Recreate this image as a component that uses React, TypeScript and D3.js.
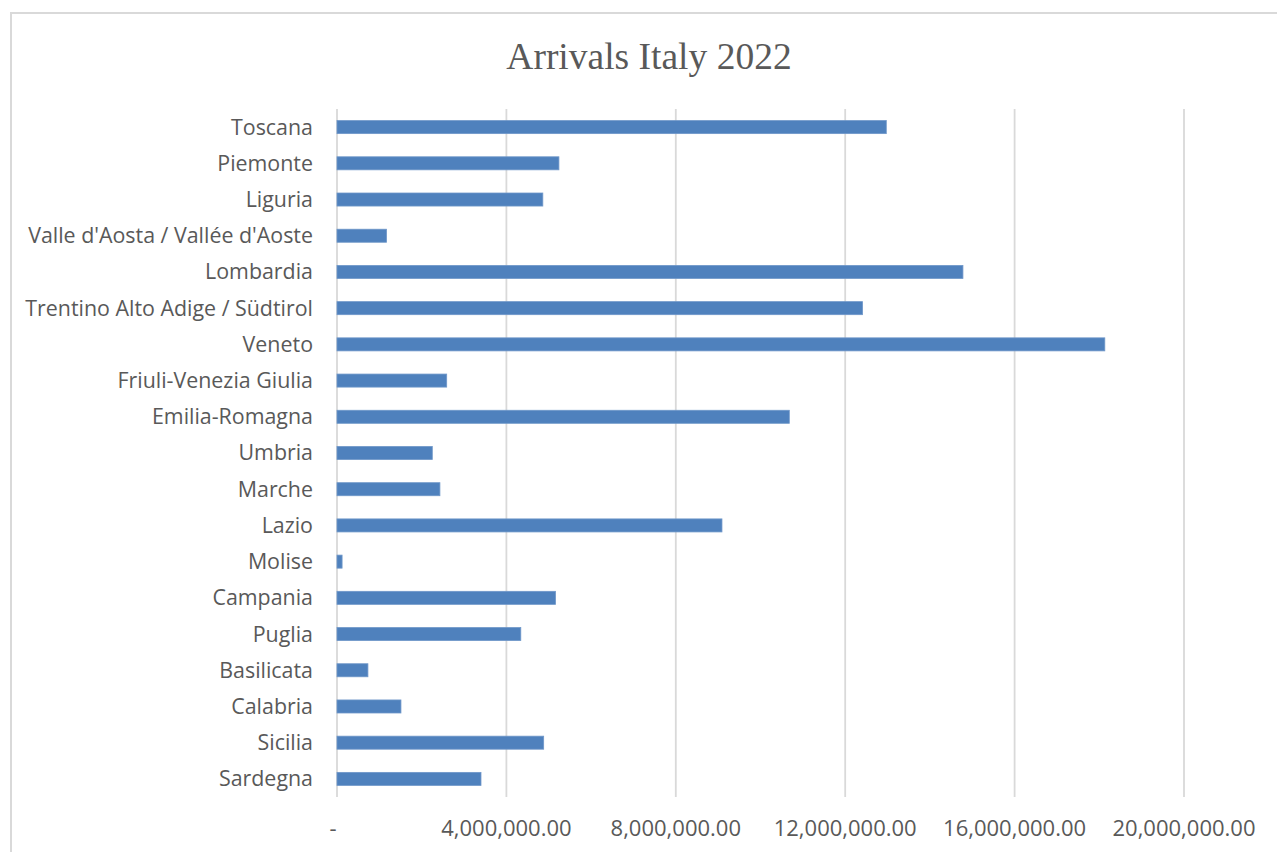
import React from "react";
import * as d3 from "d3";

const regions: string[] = [
  "Toscana",
  "Piemonte",
  "Liguria",
  "Valle d'Aosta / Vallée d'Aoste",
  "Lombardia",
  "Trentino Alto Adige / Südtirol",
  "Veneto",
  "Friuli-Venezia Giulia",
  "Emilia-Romagna",
  "Umbria",
  "Marche",
  "Lazio",
  "Molise",
  "Campania",
  "Puglia",
  "Basilicata",
  "Calabria",
  "Sicilia",
  "Sardegna",
];

const arrivals: number[] = [
  12970000, 5240000, 4860000, 1170000, 14780000, 12410000, 18130000, 2590000,
  10680000, 2250000, 2430000, 9090000, 120000, 5160000, 4340000, 730000,
  1510000, 4880000, 3400000,
];

const xTicks: number[] = [0, 4000000, 8000000, 12000000, 16000000, 20000000];

const title = "Arrivals Italy 2022";

const W = 1277;
const H = 852;

export default function App() {
  const x = d3.scaleLinear().domain([0, 20000000]).range([337, 1184]);
  const y = d3
    .scaleBand<string>()
    .domain(regions)
    .range([109, 797])
    .paddingInner(0.64)
    .paddingOuter(0.32);
  const fmt = d3.format(",.2f");
  const tickLabel = (v: number) => (v === 0 ? "-" : fmt(v));
  const [y0, y1] = y.range();

  return (
    <svg
      width={W}
      height={H}
      style={{ position: "absolute", left: 0, top: 0, background: "#fff" }}
    >
      <rect x={0} y={0} width={W} height={H} fill="#fff" />
      <rect
        x={11}
        y={13}
        width={1320}
        height={900}
        fill="none"
        stroke="#d9d9d9"
        strokeWidth={2}
      />
      <text
        x={649}
        y={69}
        textAnchor="middle"
        fontFamily="'Liberation Serif', 'Times New Roman', serif"
        fontSize={37.5}
        fill="#595959"
      >
        {title}
      </text>
      {xTicks.map((t) => (
        <line
          key={"g" + t}
          x1={x(t)}
          x2={x(t)}
          y1={y0}
          y2={y1}
          stroke="#d9d9d9"
          strokeWidth={1.8}
        />
      ))}
      {regions.map((r, i) => (
        <rect
          key={r}
          x={x(0)}
          y={y(r)!}
          width={x(arrivals[i]) - x(0)}
          height={y.bandwidth()}
          fill="#4f81bd"
          stroke="#6f97c9"
          strokeWidth={0.8}
        />
      ))}
      {regions.map((r) => (
        <text
          key={"l" + r}
          x={313}
          y={y(r)! + y.bandwidth() / 2}
          dy="0.35em"
          textAnchor="end"
          fontFamily="'Open Sans', sans-serif"
          fontSize={21.4}
          fill="#595959"
        >
          {r}
        </text>
      ))}
      {xTicks.map((t) => (
        <text
          key={"t" + t}
          x={x(t) - (t === 0 ? 4 : 0)}
          y={836}
          textAnchor="middle"
          fontFamily="'Open Sans', sans-serif"
          fontSize={22}
          fill="#595959"
        >
          {tickLabel(t)}
        </text>
      ))}
    </svg>
  );
}
